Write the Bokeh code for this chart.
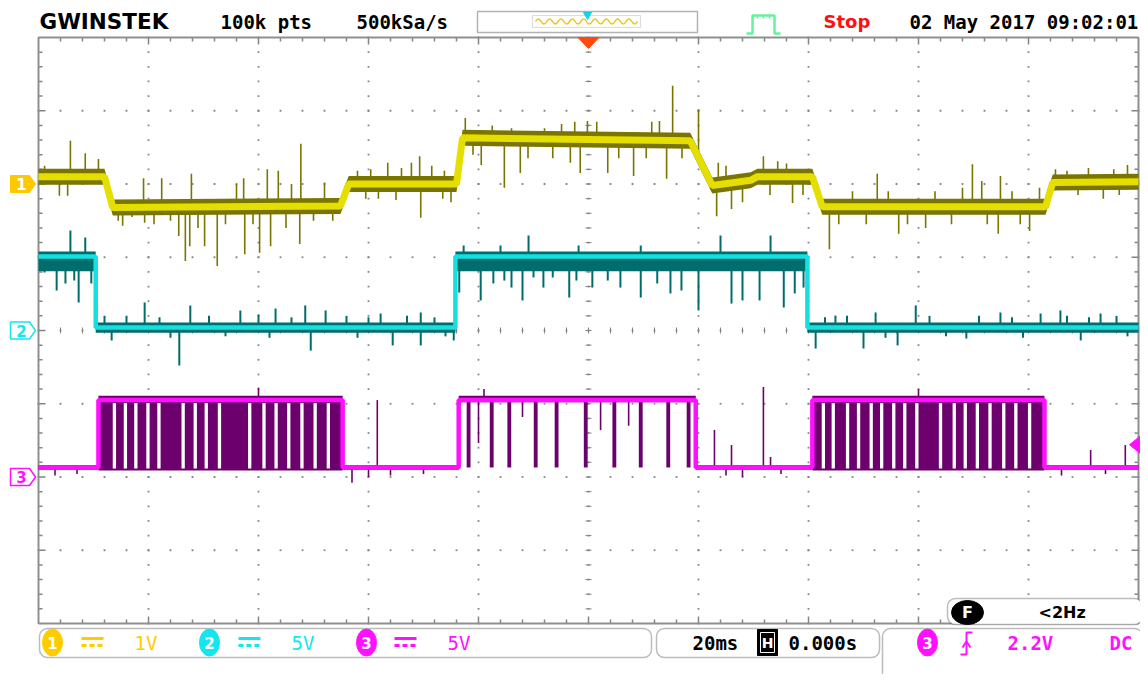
import numpy as np
from bokeh.plotting import figure
from bokeh.models import Range1d, BoxAnnotation
from bokeh.core.properties import value
from bokeh.embed import file_html
from bokeh.resources import INLINE

# ---------------- scope settings ----------------
TIME_PER_DIV = 20.0            # ms / div
CH_SCALE = [1.0, 5.0, 5.0]     # V / div
CH_OFFSET = [2.0, 0.0, -2.0]   # div
TRIG_LEVEL = 2.2               # V on CH3
H_POS = 0.0                    # ms

# ---------------- CH1 (V) ----------------
ch1_t = [-100, -88.0, -86.5, -45.1, -43.6, -24.0, -22.9, 18.5, 22.5, 29.5, 30.7, 40.7, 42.5, 83.1, 84.4, 100]
ch1_v = [0.10, 0.10, -0.32, -0.30, 0.0, 0.0, 0.63, 0.59, -0.02, 0.05, 0.10, 0.10, -0.31, -0.31, 0.02, 0.03]
ch1_spikes = [(-98.9, 0.25), (-96.2, -0.16), (-94.7, -0.16), (-94.2, 0.59), (-91.5, 0.42), (-89.1, 0.34),
              (-84.7, -0.57), (-80.9, 0.08), (-80.7, -0.53), (-77.6, 0.08), (-74.5, -0.71), (-73.3, -1.05),
              (-72.5, -0.85), (-72.2, 0.14), (-69.8, -0.85), (-67.5, -1.12), (-62.7, 0.08), (-62.5, -0.96),
              (-59.8, -0.94), (-58.4, 0.20), (-57.8, -0.85), (-56.4, 0.18), (-52.5, -0.82), (-52.3, 0.55),
              (-39.6, 0.20), (-38.2, -0.20), (-36.5, 0.29), (-32.2, 0.29), (-30.7, 0.38), (-30.5, -0.46),
              (-26.5, -0.20), (-26.2, 0.18), (-22.4, 0.90), (-19.5, 0.26), (-15.3, -0.05), (-14.0, 0.76),
              (-12.4, 0.15), (-8.0, 0.76), (-4.9, 0.82), (-3.3, 0.29), (-1.5, 0.15), (-0.2, 0.86),
              (3.5, 0.15), (8.2, 0.11), (12.9, 0.86), (14.2, 0.07), (15.3, 1.34), (20.0, 1.02),
              (23.3, -0.44), (23.6, 0.29), (26.0, -0.34), (31.8, 0.38), (34.4, 0.31), (37.1, -0.26),
              (43.8, -0.89), (52.5, 0.14), (56.4, -0.68), (61.3, -0.60), (69.8, 0.27), (71.5, 0.04),
              (74.5, -0.68), (74.9, 0.11), (80.2, -0.64), (84.9, 0.20), (90.9, 0.22), (93.6, -0.20), (98.0, 0.26),
              (-85.5, -0.50), (-83.0, -0.45), (-79.0, -0.55), (-76.0, -0.50), (-71.0, -0.60), (-66.0, -0.55),
              (-64.0, 0.0), (-61.0, -0.55), (-55.0, -0.60), (-54.0, 0.0), (-50.0, -0.50), (-48.0, 0.02),
              (-46.5, -0.50), (-42.0, 0.18), (-40.5, -0.20), (-35.0, -0.22), (-34.0, 0.22), (-28.5, 0.25),
              (-25.0, -0.25), (-21.0, 0.40), (-17.5, 0.80), (-11.0, 0.35), (-6.5, 0.35), (-2.5, 0.85),
              (1.5, 0.85), (5.5, 0.35), (10.5, 0.35), (11.5, 0.85), (17.0, 0.35), (25.0, 0.25),
              (28.0, -0.25), (33.0, -0.15), (36.0, 0.28), (39.0, -0.15), (45.5, -0.55), (48.0, -0.10),
              (50.5, -0.55), (54.5, -0.10), (58.0, -0.55), (63.0, -0.10), (66.0, -0.55), (68.0, -0.05),
              (72.5, -0.55), (77.0, -0.10), (78.5, -0.55), (82.0, -0.05), (87.0, 0.18), (89.0, -0.15),
              (95.5, 0.20), (96.5, -0.15)]

# ---------------- CH2 (V) ----------------
ch2_levels = [0.2, 5.05]               # low, high
ch2_edges = [-89.6, -24.2, 39.8]       # ms
ch2_states = [1, 0, 1, 0]
ch2_spikes = [(-98.9, 3.96), (-96.7, 2.73), (-95.1, 3.21), (-93.5, 3.41), (-92.7, 1.91), (-90.4, 3.21),
              (-23.5, 2.59), (-19.6, 2.05), (-17.3, 3.21), (-15.3, 3.41), (-14.0, 2.93), (-12.0, 2.05),
              (-10.0, 3.62), (-8.2, 2.93), (-6.5, 3.62), (-3.5, 2.25), (-2.2, 3.41), (0.7, 2.93),
              (3.5, 3.41), (5.8, 2.93), (9.5, 2.25), (12.5, 3.21), (14.9, 2.53), (16.9, 2.73),
              (20.0, 1.37), (26.0, 1.84), (28.0, 2.05), (31.1, 2.05), (33.1, 4.10), (35.5, 1.57),
              (37.5, 2.53), (39.1, 2.93),
              (-94.2, 6.83), (-91.5, 6.35), (-10.9, 6.49), (-1.8, 5.80), (24.0, 6.49), (33.1, 6.49),
              (-22.7, 5.80), (-16.0, 5.80), (9.5, 5.80),
              (-80.7, 1.91), (-72.4, 1.71), (-63.3, 1.37), (-56.9, 1.50), (-51.5, 1.71), (-47.8, 1.37),
              (-30.5, 1.23), (-37.8, 1.16), (59.5, 1.71), (52.2, 1.23), (74.9, 1.23), (82.2, 1.16),
              (93.1, 1.16), (44.9, 1.02), (85.8, 1.37),
              (-74.4, -2.39), (-50.5, -1.37), (-35.6, -1.02), (-30.5, -1.02), (-24.5, -0.68), (-86.7, -0.68),
              (41.3, -1.23), (50.0, -1.23), (56.2, -1.02), (89.5, -0.68), (68.7, -0.55),
              (-88.0, 1.0), (-84.0, 1.0), (-78.0, 0.9), (-76.0, -0.5), (-69.0, 1.0), (-66.0, -0.4),
              (-60.0, 1.1), (-58.0, -0.5), (-54.0, 0.9), (-44.0, 1.0), (-42.0, -0.5), (-40.0, 0.9),
              (-33.0, 1.0), (-28.0, 0.9), (-26.0, -0.4), (43.0, 0.9), (47.0, 1.0), (54.0, -0.5),
              (62.0, 1.0), (65.0, -0.4), (71.0, 1.0), (77.0, 0.9), (79.0, -0.5), (87.0, 1.0),
              (91.0, 0.9), (96.0, 1.0), (98.0, -0.4)]

# ---------------- CH3 (V) ----------------
ch3_levels = [0.65, 5.25]
ch3_edges = [-89.1, -44.7, -23.6, 19.5, 40.7, 82.9]
ch3_states = [0, 1, 0, 1, 0, 1, 0]
ch3_burst_start = [-89.1, 40.7]
ch3_burst_end = [-44.7, 82.9]
ch3_gaps = [-86.2, -84.2, -82.3, -80.1, -78.1, -73.7, -71.5, -69.5, -67.1, -61.6, -59.0, -56.8,
            -54.5, -52.1, -49.7, -47.3,
            42.7, 44.5, 47.1, 49.1, 51.4, 53.3, 55.5, 57.5, 59.7, 64.0, 66.5, 68.5, 70.7, 73.0,
            75.5, 77.7, 80.2]
ch3_drops = [-21.8, -17.6, -14.4, -9.6, -5.8, -0.5, 4.7, 9.5, 14.5, 18.2]
ch3_spikes = [(-20.0, 2.32), (-12.0, 4.10), (2.2, 3.20), (7.3, 3.50), (-38.4, 5.25),
              (22.9, 3.21), (26.0, 2.18), (31.8, 6.14), (33.1, 1.37), (91.3, 1.84), (97.6, 2.18),
              (-43.0, -0.40), (-19.0, 6.0), (-36.0, 0.1), (28.0, 0.0), (60.0, 6.0), (-60.0, 6.1),
              (-97.0, 0.1), (-93.0, 0.2), (-40.0, 0.0), (-30.0, 0.2), (25.0, 0.1), (35.0, 0.2),
              (86.0, 0.1), (94.0, 0.2)]

# ---------------- layout helpers (reference pixels -> axes) ----------------
CX, CY = 588.0, 330.0
PXX, PXY = 110.0, 73.25         # px per division
W, H = 1140, 674


def X(px):
    return (px - CX) / PXX * TIME_PER_DIV


def Y(py):
    return (CY - py) / PXY


def dx(px):
    return px / PXX * TIME_PER_DIV


def dy(py):
    return py / PXY


def to_div(ch, v):
    return CH_OFFSET[ch] + np.asarray(v, dtype=float) / CH_SCALE[ch]


T0, T1 = -5 * TIME_PER_DIV, 5 * TIME_PER_DIV

p = figure(width=W, height=H, x_range=Range1d(X(0), X(W)), y_range=Range1d(Y(H), Y(0)),
           output_backend="svg", toolbar_location=None, x_axis_location=None, y_axis_location=None,
           min_border=0, min_border_left=0, min_border_right=0, min_border_top=0, min_border_bottom=0)
p.grid.visible = False
p.outline_line_color = None
p.background_fill_color = "white"
p.border_fill_color = "white"

MONO = value("DejaVu Sans Mono")
SANS = value("DejaVu Sans")

# ---------------- graticule ----------------
GRID = "#858585"
vx, vy = [], []
for t in np.arange(T0 + TIME_PER_DIV, T1, TIME_PER_DIV):
    for d in np.arange(-4, 4.001, 0.2):
        vx.append(t); vy.append(d)
for d in range(-3, 4):
    for t in np.arange(T0, T1 + 0.01, TIME_PER_DIV / 5):
        vx.append(t); vy.append(d)
p.scatter(vx, vy, marker="square", size=1.8, color=GRID, line_width=0)

# center cross ticks
ct = np.arange(T0, T1 + 0.01, TIME_PER_DIV / 5)
p.segment(ct, np.full(len(ct), -dy(3)), ct, np.full(len(ct), dy(3)), line_color=GRID, line_width=1)
cd = np.arange(-4, 4.001, 0.2)
p.segment(np.full(len(cd), -dx(3)), cd, np.full(len(cd), dx(3)), cd, line_color=GRID, line_width=1)

# border ticks
bt = np.arange(T0 + TIME_PER_DIV / 5, T1, TIME_PER_DIV / 5)
blen = np.array([7 if abs((t / TIME_PER_DIV) - round(t / TIME_PER_DIV)) < 1e-6 else 4 for t in bt])
p.segment(bt, np.full(len(bt), 4.0), bt, 4.0 - dy(blen), line_color=GRID, line_width=1.5)
p.segment(bt, np.full(len(bt), -4.0), bt, -4.0 + dy(blen), line_color=GRID, line_width=1.5)
bd = np.arange(-3.8, 3.81, 0.2)
dlen = np.array([7 if abs(d - round(d)) < 1e-6 else 4 for d in bd])
p.segment(np.full(len(bd), T0), bd, T0 + dx(dlen), bd, line_color=GRID, line_width=1.5)
p.segment(np.full(len(bd), T1), bd, T1 - dx(dlen), bd, line_color=GRID, line_width=1.5)
p.quad(left=T0, right=T1, bottom=-4, top=4, fill_alpha=0, line_color="#8f8f8f", line_width=2)


# ---------------- helpers ----------------
def step_xy(edges, states, levels):
    xs, ys = [T0], [levels[states[0]]]
    for e, a, b in zip(edges, states[:-1], states[1:]):
        xs += [e, e]
        ys += [levels[a], levels[b]]
    xs.append(T1); ys.append(levels[states[-1]])
    return np.array(xs), np.array(ys)


# ---------------- CH1 ----------------
Y1, D1 = "#e4df00", "#7a7400"
c1y = to_div(0, ch1_v)
p.varea(x=ch1_t, y1=c1y - dy(8), y2=c1y + dy(8), fill_color=D1)
s1t = np.array([s[0] for s in ch1_spikes]); s1v = np.array([s[1] for s in ch1_spikes])
p.segment(s1t, np.interp(s1t, ch1_t, c1y), s1t, to_div(0, s1v), line_color=D1, line_width=1.6)
p.line(ch1_t, c1y, line_color=Y1, line_width=7)

# ---------------- CH2 ----------------
C2, D2 = "#14e0e0", "#006d6d"
sx, sv = step_xy(ch2_edges, ch2_states, ch2_levels)
st = np.repeat(np.array(ch2_states), 2)
below = np.where(st == 1, 1.0, 0.35); above = np.where(st == 1, 0.35, 0.35)
sy = to_div(1, sv)
p.varea(x=sx, y1=to_div(1, sv - below), y2=to_div(1, sv + above), fill_color=D2)
s2t = np.array([s[0] for s in ch2_spikes]); s2v = np.array([s[1] for s in ch2_spikes])
p.segment(s2t, np.interp(s2t, sx, sy), s2t, to_div(1, s2v), line_color=D2, line_width=2)
p.line(sx, sy, line_color=C2, line_width=4.5)

# ---------------- CH3 ----------------
M3, D3 = "#ff10ff", "#6c006c"
lo, hi = to_div(2, ch3_levels[0]), to_div(2, ch3_levels[1])
mx, mv = step_xy(ch3_edges, ch3_states, ch3_levels)
my = to_div(2, mv)
stt = np.repeat(np.array(ch3_states), 2)
p.varea(x=mx, y1=my, y2=to_div(2, mv + np.where(stt == 1, 0.3, 0.15)), fill_color=D3)
p.varea(x=mx, y1=to_div(2, mv - 0.15), y2=my, fill_color=D3)
p.quad(left=ch3_burst_start, right=ch3_burst_end, bottom=lo - dy(3), top=hi, fill_color=D3, line_width=0)
g = np.array(ch3_gaps)
p.quad(left=g - 0.3, right=g + 0.3, bottom=lo - dy(1), top=hi - dy(3), fill_color="white", line_width=0)
dr = np.array(ch3_drops)
p.quad(left=dr - 0.35, right=dr + 0.35, bottom=lo, top=hi, fill_color=D3, line_width=0)
s3t = np.array([s[0] for s in ch3_spikes]); s3v = np.array([s[1] for s in ch3_spikes])
p.segment(s3t, np.interp(s3t, mx, my), s3t, to_div(2, s3v), line_color=D3, line_width=1.6)
p.line(mx, my, line_color=M3, line_width=4.5)

# ---------------- channel markers ----------------
MCOL = ["#ffc800", "#14e5f0", "#ff10ff"]
for i in range(3):
    yc = CH_OFFSET[i]
    xs = [X(10), X(29), X(35), X(29), X(10)]
    ys = [yc + dy(8.5), yc + dy(8.5), yc, yc - dy(8.5), yc - dy(8.5)]
    if i == 0:
        p.patch(xs, ys, fill_color=MCOL[i], line_color=MCOL[i], line_width=1)
        tc = "white"
    else:
        p.patch(xs, ys, fill_color="white", line_color=MCOL[i], line_width=1.5)
        tc = MCOL[i]
    p.text(x=[X(21)], y=[yc], text=[str(i + 1)], text_font=SANS, text_font_size="15px",
           text_font_style="bold", text_color=tc, text_align="center", text_baseline="middle")

# trigger level marker (right) and trigger position marker (top)
tl = to_div(2, TRIG_LEVEL)
p.patch([T1 - dx(9), X(1140), X(1140)], [tl, tl + dy(9), tl - dy(9)], fill_color=M3, line_color=M3)
p.patch([H_POS - dx(10.5), H_POS + dx(10.5), H_POS], [4, 4, 4 - dy(11)], fill_color="#ff4a0a",
        line_color="#ff4a0a")

# ---------------- header ----------------
p.text(x=[X(39)], y=[Y(21)], text=["GWINSTEK"], text_font=SANS, text_font_size="21.5px",
       text_font_style="bold", text_color="black", text_baseline="middle")
p.text(x=[X(220), X(356), X(909)], y=[Y(21)] * 3, text=["100k pts", "500kSa/s", "02 May 2017 09:02:01"],
       text_font=MONO, text_font_size="19px", text_font_style="bold", text_color="black",
       text_baseline="middle")
p.text(x=[X(823)], y=[Y(21)], text=["Stop"], text_font=SANS, text_font_size="18px",
       text_font_style="bold", text_color="#ff1010", text_baseline="middle")
p.add_layout(BoxAnnotation(left=X(477), right=X(697), top=Y(11), bottom=Y(32), fill_alpha=0,
                           line_color="black", line_width=1.5))
p.add_layout(BoxAnnotation(left=X(532), right=X(640), top=Y(15), bottom=Y(27), fill_alpha=0,
                           line_color="#8a8a8a", line_width=1.2))
wx = np.linspace(X(535), X(637), 120)
p.line(wx, Y(21) + dy(2.5) * np.sin((wx - wx[0]) / (wx[-1] - wx[0]) * 2 * np.pi * 9), line_color="#f0c000",
       line_width=1.3)
p.patch([X(583), X(591), X(587)], [Y(12), Y(12), Y(19)], fill_color="#14d8e8", line_color="#14d8e8")
p.line([X(746), X(752), X(752), X(774), X(774), X(780)], [Y(33), Y(33), Y(15), Y(15), Y(33), Y(33)],
       line_color="#66f29a", line_width=2.5)
p.segment([X(757), X(763), X(769)], [Y(15)] * 3, [X(757), X(763), X(769)], [Y(18)] * 3,
          line_color="#66f29a", line_width=1.5)

# ---------------- footer ----------------
for l, r, t, b in [(39, 651, 628, 657), (656, 879, 628, 657), (882, 1142, 628, 700)]:
    p.add_layout(BoxAnnotation(left=X(l), right=X(r), top=Y(t), bottom=Y(b), fill_color="white",
                               fill_alpha=1, line_color="#222222", line_width=1.5, border_radius=8))
p.add_layout(BoxAnnotation(left=X(947), right=X(1142), top=Y(598), bottom=Y(624), fill_color="white",
                           fill_alpha=1, line_color="#222222", line_width=1.5, border_radius=8))

foot = []
FC = ["#ffcc00", "#14e5f0", "#ff10ff"]
circ_x = [52, 209, 366]
sym_x = [81, 238, 394]
lab_x = [134, 291, 447]
labels = ["%gV" % s for s in CH_SCALE]
for i in range(3):
    foot.append(p.ellipse(x=[X(circ_x[i])], y=[Y(642)], width=20, height=27, width_units="screen",
                          height_units="screen", fill_color=FC[i], line_color=FC[i]))
    foot.append(p.text(x=[X(circ_x[i])], y=[Y(642)], text=[str(i + 1)], text_font=SANS,
                       text_font_size="15px", text_font_style="bold", text_color="white",
                       text_align="center", text_baseline="middle"))
    foot.append(p.segment([X(sym_x[i])], [Y(638)], [X(sym_x[i] + 22)], [Y(638)], line_color=FC[i],
                          line_width=3))
    foot.append(p.segment([X(sym_x[i])], [Y(645)], [X(sym_x[i] + 22)], [Y(645)], line_color=FC[i],
                          line_width=3, line_dash="5 3"))
    foot.append(p.text(x=[X(lab_x[i])], y=[Y(642)], text=[labels[i]], text_font=MONO,
                       text_font_size="19px", text_color=FC[i], text_baseline="middle"))

foot.append(p.text(x=[X(692), X(788)], y=[Y(642)] * 2, text=["%gms" % TIME_PER_DIV, "%.3fs" % (H_POS / 1000)],
                   text_font=MONO, text_font_size="19px", text_font_style="bold", text_color="black",
                   text_baseline="middle"))
foot.append(p.rect(x=[X(767)], y=[Y(642)], width=20, height=26, width_units="screen",
                   height_units="screen", fill_color="black", line_color="black"))
foot.append(p.rect(x=[X(767)], y=[Y(642)], width=14, height=20, width_units="screen",
                   height_units="screen", fill_alpha=0, line_color="white", line_width=1))
foot.append(p.text(x=[X(767)], y=[Y(642)], text=["H"], text_font=SANS, text_font_size="14px",
                   text_font_style="bold", text_color="white", text_align="center", text_baseline="middle"))

foot.append(p.ellipse(x=[X(927)], y=[Y(642)], width=20, height=27, width_units="screen",
                      height_units="screen", fill_color=FC[2], line_color=FC[2]))
foot.append(p.text(x=[X(927)], y=[Y(642)], text=["3"], text_font=SANS, text_font_size="15px",
                   text_font_style="bold", text_color="white", text_align="center", text_baseline="middle"))
foot.append(p.line([X(960), X(966), X(966), X(972)], [Y(654), Y(654), Y(632), Y(632)], line_color=FC[2],
                   line_width=2))
foot.append(p.line([X(962), X(966), X(970)], [Y(647), Y(641), Y(647)], line_color=FC[2], line_width=2))
foot.append(p.text(x=[X(1007), X(1109)], y=[Y(642)] * 2, text=["%.1fV" % TRIG_LEVEL, "DC"], text_font=MONO,
                   text_font_size="19px", text_font_style="bold", text_color=FC[2], text_baseline="middle"))

foot.append(p.ellipse(x=[X(967)], y=[Y(612)], width=32, height=24, width_units="screen",
                      height_units="screen", fill_color="black", line_color="black"))
foot.append(p.text(x=[X(967)], y=[Y(612)], text=["F"], text_font=SANS, text_font_size="16px",
                   text_font_style="bold", text_color="white", text_align="center", text_baseline="middle"))
foot.append(p.text(x=[X(1038)], y=[Y(612)], text=["<2Hz"], text_font=SANS, text_font_size="16px",
                   text_font_style="bold", text_color="black", text_baseline="middle"))
for r in foot:
    r.level = "overlay"

open("out.html", "w").write(file_html(p, INLINE))
